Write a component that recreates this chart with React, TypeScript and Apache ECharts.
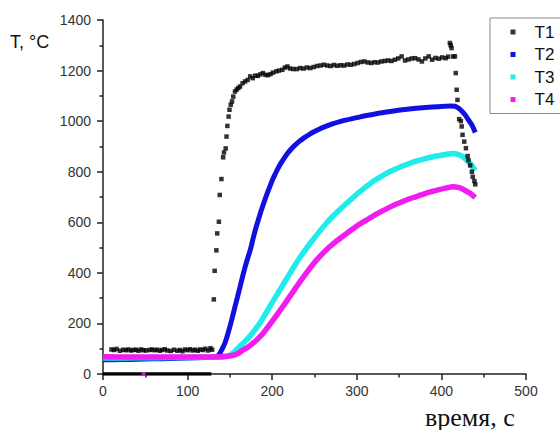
import React, { useEffect, useRef } from 'react';
import * as echarts from 'echarts';

const seriesNames = ['T1', 'T2', 'T3', 'T4'];
const xTicks = [0, 100, 200, 300, 400, 500];
const yTicks = [0, 200, 400, 600, 800, 1000, 1200, 1400];

const t1Data: number[][] = [
  [10, 97], [13, 95], [16, 99], [20, 92], [24, 96], [27, 94], [30, 97], [33, 93], [36, 95], [39, 96],
  [42, 92], [45, 97], [48, 94], [51, 93], [55, 95], [58, 97], [61, 94], [64, 96], [67, 92], [70, 95],
  [73, 98], [76, 93], [80, 91], [84, 96], [88, 92], [91, 95], [94, 90], [97, 97], [100, 94], [103, 98],
  [106, 93], [109, 96], [112, 92], [115, 97], [118, 95], [121, 100], [124, 93], [127, 102], [129, 96],
  [131, 295], [132, 408], [134, 489], [135, 556], [137, 602], [138, 708], [140, 771], [142, 857], [143, 876],
  [145, 892], [146, 939], [147, 981], [148.5, 1018], [149.5, 1045], [151, 1065], [152.5, 1078], [154, 1097],
  [156, 1117], [158, 1125], [160, 1131], [162, 1137], [165, 1150], [168, 1157], [171, 1163], [174, 1177],
  [177, 1170], [180, 1180], [183, 1179], [186, 1185], [189, 1190], [192, 1183], [195, 1182], [198, 1186],
  [201, 1192], [205, 1197], [208, 1200], [212, 1203], [215, 1212], [218, 1216], [221, 1208], [225, 1206],
  [229, 1206], [233, 1210], [237, 1208], [241, 1212], [245, 1210], [249, 1214], [253, 1218], [257, 1220],
  [261, 1223], [265, 1220], [269, 1218], [273, 1222], [277, 1219], [281, 1221], [285, 1220], [289, 1224],
  [293, 1223], [297, 1226], [301, 1230], [305, 1234], [309, 1236], [313, 1232], [317, 1230], [321, 1233],
  [325, 1232], [329, 1236], [333, 1238], [337, 1240], [341, 1238], [345, 1243], [349, 1248], [353, 1256],
  [357, 1240], [361, 1244], [365, 1248], [369, 1249], [373, 1244], [377, 1236], [381, 1248], [385, 1256],
  [389, 1243], [393, 1250], [397, 1247], [401, 1252], [405, 1249], [408, 1255], [410, 1309], [411, 1300],
  [412, 1289], [414, 1256], [416, 1256], [417, 1190], [418, 1124], [419, 1084], [421, 1008], [423, 1000],
  [424, 979], [425, 946], [427, 919], [429, 893], [431, 862], [432, 845], [434, 825], [436, 800],
  [437, 780], [439, 763], [440, 750],
];

const t2Data: number[][] = [
  [0, 56], [20, 57], [40, 58], [60, 60], [80, 61], [100, 63], [120, 65], [130, 66], [135, 70], [138, 81],
  [141, 100], [144, 121], [147, 152], [150, 187], [153, 226], [156, 266], [159, 305], [162, 345], [165, 385],
  [168, 424], [171, 458], [174, 490], [177, 530], [180, 569], [183, 603], [186, 636], [189, 666], [192, 695],
  [195, 722], [198, 748], [201, 773], [204, 794], [207, 814], [210, 832], [214, 853], [218, 872], [222, 888],
  [226, 902], [232, 920], [238, 935], [244, 948], [250, 959], [256, 969], [264, 980], [272, 990], [280, 998],
  [288, 1005], [296, 1011], [304, 1017], [315, 1024], [330, 1033], [347, 1042], [362, 1048], [378, 1053],
  [395, 1057], [410, 1060], [416, 1059], [420, 1052], [424, 1040], [428, 1025], [432, 1005], [436, 985], [440, 955],
];

const t3Data: number[][] = [
  [0, 63], [40, 64], [80, 65], [120, 66], [135, 66], [145, 68], [150, 75], [155, 87], [161, 107], [167, 126],
  [173, 147], [179, 172], [185, 200], [191, 232], [197, 266], [203, 299], [209, 332], [215, 365], [221, 398],
  [227, 431], [233, 462], [239, 490], [245, 517], [251, 543], [257, 568], [264, 596], [272, 625], [280, 651],
  [288, 675], [296, 699], [304, 722], [312, 743], [320, 763], [330, 784], [340, 802], [350, 817], [360, 830],
  [370, 842], [380, 851], [390, 859], [400, 865], [408, 870], [414, 872], [420, 868], [425, 860], [430, 845],
  [435, 828], [440, 805],
];

const t4Data: number[][] = [
  [0, 68], [40, 67], [80, 67], [120, 67], [138, 68], [146, 70], [154, 74], [160, 82], [165, 94], [171, 106],
  [177, 121], [183, 139], [189, 160], [195, 186], [201, 213], [207, 241], [213, 269], [219, 298], [225, 327],
  [231, 356], [237, 384], [243, 411], [249, 437], [255, 460], [261, 481], [267, 500], [273, 518], [280, 536],
  [288, 556], [296, 575], [304, 594], [314, 614], [323, 632], [335, 653], [345, 669], [355, 683], [365, 696],
  [375, 707], [386, 719], [395, 727], [405, 735], [414, 741], [420, 738], [425, 732], [430, 722], [435, 712],
  [440, 698],
];

const zeroRun: number[][] = [[0, 0], [128, 0]];
const t4Stray: number[][] = [[48, 0]];

const colors = ['#000000', '#1010e0', '#20ecec', '#f01cf0'];
const SANS = '"Liberation Sans", Arial, sans-serif';
const SERIF = '"Liberation Serif", "Times New Roman", serif';

export default function App() {
  const ref = useRef<HTMLDivElement>(null);
  useEffect(() => {
    const chart = echarts.init(ref.current!, null, { renderer: 'svg' });
    const axisCommon = {
      type: 'value',
      axisLine: { show: true, onZero: false, lineStyle: { color: '#222', width: 1.5 } },
      axisTick: { show: true, length: 6, lineStyle: { color: '#222', width: 1.5 } },
      minorTick: { show: true, splitNumber: 2, length: 3.5, lineStyle: { color: '#222', width: 1.5 } },
      splitLine: { show: false },
      minorSplitLine: { show: false },
    };
    chart.setOption({
      animation: false,
      backgroundColor: '#ffffff',
      grid: { left: 103, right: 34, top: 20, bottom: 56, containLabel: false },
      xAxis: {
        ...axisCommon,
        min: xTicks[0],
        max: xTicks[xTicks.length - 1],
        interval: 100,
        axisLabel: { fontSize: 14, margin: 10, color: '#333', fontFamily: SANS, formatter: (v: number) => String(v) },
      },
      yAxis: {
        ...axisCommon,
        min: yTicks[0],
        max: yTicks[yTicks.length - 1],
        interval: 200,
        axisLabel: { fontSize: 14, margin: 12, color: '#333', fontFamily: SANS, formatter: (v: number) => String(v) },
      },
      legend: {
        data: seriesNames.map((n, i) => ({ name: n, icon: 'rect', itemStyle: { color: colors[i] } })),
        orient: 'vertical',
        left: 490,
        top: 18,
        padding: [5.5, 40, 5.5, 20.5],
        itemGap: 5.5,
        itemWidth: 5,
        itemHeight: 5,
        borderColor: '#8a8a8a',
        borderWidth: 1,
        textStyle: { fontSize: 17, lineHeight: 17, color: '#111', fontFamily: SANS, padding: [0, 0, 0, 14] },
      },
      graphic: [
        {
          type: 'text',
          left: 10,
          top: 33,
          style: { text: 'T, °C', fontSize: 18, fontFamily: SANS, fill: '#111' },
        },
        {
          type: 'text',
          left: 425,
          top: 404,
          style: { text: 'время, с', fontSize: 26, fontFamily: SERIF, fill: '#111' },
        },
      ],
      series: [
        {
          name: 'zero',
          type: 'line',
          data: zeroRun,
          symbol: 'none',
          lineStyle: { color: '#000', width: 3.4 },
          z: 3,
        },
        {
          name: 'T2',
          type: 'line',
          data: t2Data,
          symbol: 'none',
          smooth: 0.3,
          lineStyle: { color: colors[1], width: 5 },
          itemStyle: { color: colors[1] },
        },
        {
          name: 'T3',
          type: 'line',
          data: t3Data,
          symbol: 'none',
          smooth: 0.3,
          lineStyle: { color: colors[2], width: 5.5 },
          itemStyle: { color: colors[2] },
        },
        {
          name: 'T4',
          type: 'line',
          data: t4Data,
          symbol: 'none',
          smooth: 0.3,
          lineStyle: { color: colors[3], width: 5.5 },
          itemStyle: { color: colors[3] },
        },
        {
          name: 'T4stray',
          type: 'scatter',
          data: t4Stray,
          symbol: 'rect',
          symbolSize: 4,
          itemStyle: { color: colors[3] },
          z: 4,
        },
        {
          name: 'T1',
          type: 'scatter',
          data: t1Data,
          symbol: 'rect',
          symbolSize: 4.5,
          itemStyle: { color: colors[0] },
          z: 5,
        },
      ],
    });
    return () => chart.dispose();
  }, []);
  return (
    <div
      ref={ref}
      style={{ position: 'absolute', left: 0, top: 0, width: 560, height: 430, background: '#fff' }}
    />
  );
}
